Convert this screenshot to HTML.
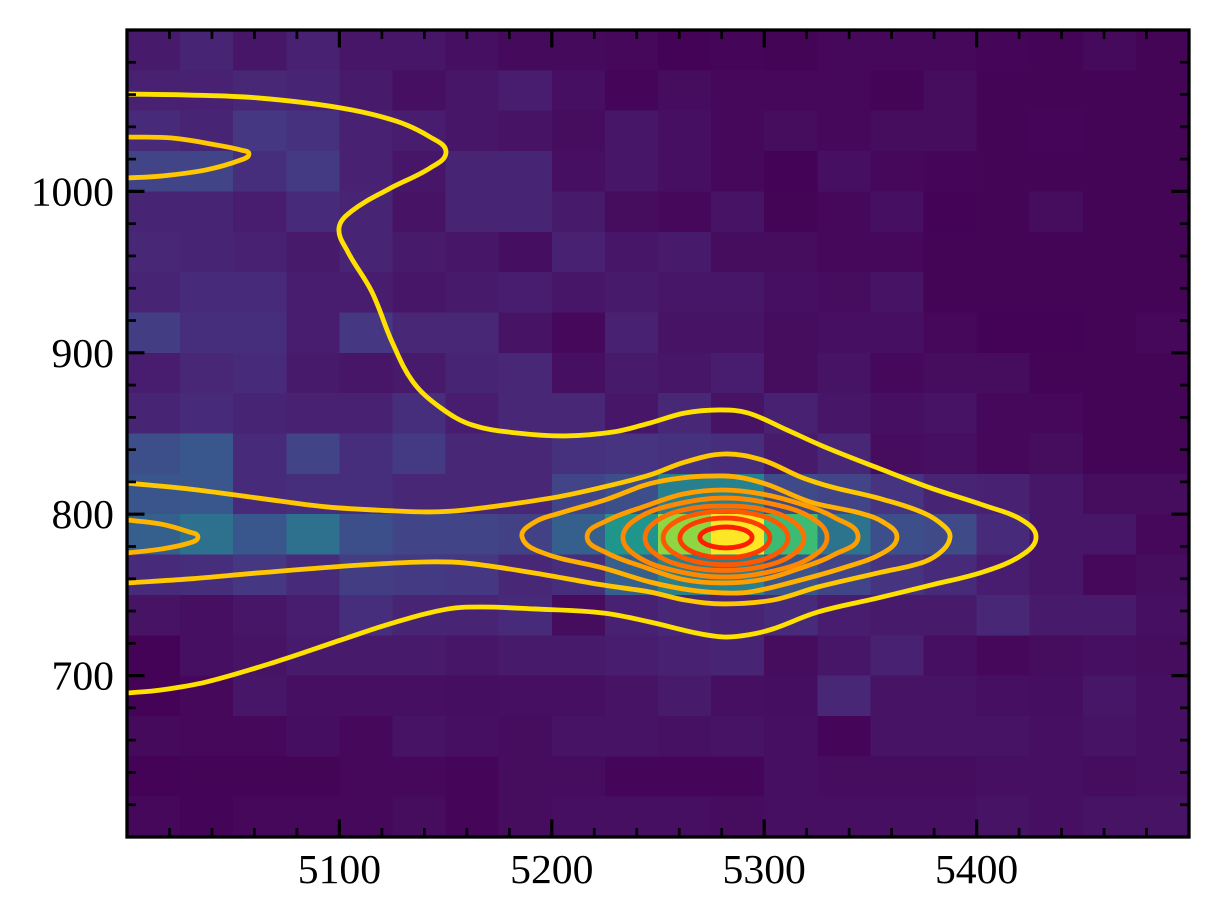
<!DOCTYPE html>
<html lang="en">
<head>
<meta charset="utf-8">
<title>Density heatmap with contours</title>
<style>
html,body{margin:0;padding:0;background:#fff;width:1218px;height:918px;overflow:hidden}
svg{display:block}
text{font-family:"Liberation Serif","Times New Roman",serif;font-size:41.67px;fill:#000}
</style>
</head>
<body>
<svg id="chart" xmlns="http://www.w3.org/2000/svg" width="1218" height="918" viewBox="0 0 1218 918">
  <defs><clipPath id="plot-clip"><rect x="127" y="30" width="1062" height="807"></rect></clipPath></defs>
  <g id="heatmap"></g>
  <g id="contours" clip-path="url(#plot-clip)" fill="none" stroke-linejoin="round" stroke-linecap="butt"></g>
  <g id="ticks" stroke="#000"></g>
  <rect x="127" y="30" width="1062" height="807" fill="none" stroke="#000" stroke-width="3.3"></rect>
  <g id="labels"></g>
</svg>
<script>
// ---- tick data ----
const xTickLabels = [5100, 5200, 5300, 5400];
const yTickLabels = [700, 800, 900, 1000];
const xRange = [5000, 5500];
const yRange = [600, 1100];
const minorStep = 20;
const binSize = 25;

// ---- heatmap counts (percent of peak), rows from top (y=1100) to bottom (y=600) ----
const heatRows = [
 [7,10,6,9,6,6,4,2.5,2.5,2,0.5,1.5,1,2,2,2,1.5,1,2.5,1],
 [9,9,11,10,7,4,6,8,4,1.5,3,2,2,2,1,3,1,1,1,1],
 [12,10,16,14,9,8,6,5,3,6,4,2,3,2,3,3,1,1.5,1,1],
 [20,20,13,17,9,6,10,10,4,6,4,2,0.5,4,2,1.5,1,1,1,1],
 [10,10,8,12,10,5,10,10,7,3,2,5,1,2,4,0.5,1,3,1,1],
 [11,10,9,7,10,7,6,3.5,9,6,7,3,3,2,2,1,1,1,1,1],
 [10,12,12,8,8,6,7,8,6,7,6,6,4,3,5,1,1,1,1,1],
 [18,13,13,8,16,11,11,5,2,9,5,5,3,4,4,2,0.5,0.5,1,2],
 [8,11,12,7,6,7,10,11,4,7,6,8,3,5,2,3,3,1,1,1],
 [10,12,10,9,9,13,8,11,11,6,11,5,9,6,4,5,2,2,1,1],
 [24,27,12,20,13,17,11,11,14,15,14,13,7,11,3,4,2,3,1,1],
 [26,27,12,13,13,11,11,11,20,24,44,45,22,20,15,10,9,6,3,3],
 [30,37,27,37,24,20,20,19,30,52,83,100,68,38,24,22,12,6,6,2],
 [12,13,16,12,18,17,16,11,13,30,44,44,26,20,15,12,8,6,2,3],
 [5,4,6,8,13,10,10,12,3,9,11,10,12,8,7,7,11,7,7,4],
 [0.5,4,5,7,7,7,6,7,7,8,9,10,3,6,9,4,2,3,4,3],
 [0.5,2,6,4,4,4,3.5,4,4,5,7,4,3.5,11,5,5,4,3.5,6,4],
 [2.5,2,2,3.5,2,5,4,3,5,5,4.5,5,4,1.5,5,5,5,4,5,4],
 [0.5,1,1,1,2,2,1.5,3,3,1.5,1.5,1.5,4,3,3,3,4,4,3,4],
 [2,0.8,2,2,2,3,1.5,3,4,4,4,3,4,4,4,4,5,4,5,5]
];

// ---- contour lines in data units ----
const level1Outer = [[5000,1060.3],[5029.2,1059.7],[5061.7,1057.9],[5100.8,1051.7],[5126.6,1043.6],[5142.7,1033.7],[5150.2,1024.4],[5142.7,1014.5],[5123.3,1001.5],[5106,988],[5099.8,977.3],[5104,962.5],[5115.3,937.7],[5124.8,906.7],[5134.7,881.9],[5147.8,865.8],[5162.4,855.3],[5183.6,850.3],[5206.2,848.5],[5228.8,850.9],[5246.2,856.5],[5262.7,862.7],[5279.2,864.6],[5292.4,862.7],[5310.7,852.2],[5328.6,841.6],[5353.6,828.6],[5378.5,816.2],[5403,805.7],[5421.4,796.4],[5428,785.9],[5421.4,774.7],[5403,764.2],[5378.5,756.1],[5353.6,748.1],[5325.3,739.4],[5304.1,728.9],[5292.4,725.2],[5281.1,723.9],[5267.9,726.4],[5246.2,733.2],[5224.1,738.8],[5191.6,741.3],[5167.1,742.5],[5151.1,741.3],[5126.6,733.2],[5100.8,722.1],[5069.7,708.4],[5037.2,696],[5016,691.1],[5000,689.2]];
const level2Band = [[5000,819.3],[5029.2,815.6],[5061.7,810],[5094.2,804.5],[5126.6,802],[5142.7,801.4],[5159.1,802.6],[5199.6,810],[5224.1,816.8],[5246.2,824.3],[5262.7,832.3],[5281.1,837.3],[5299,833.6],[5317.3,823],[5331.9,816.8],[5353.6,810],[5375.2,800.7],[5385.1,792.1],[5387.5,785.9],[5384.2,777.8],[5375.2,770.4],[5353.6,763.6],[5325.3,754.9],[5304.1,746.8],[5281.1,744.4],[5262.7,746.8],[5246.2,751.8],[5224.1,756.1],[5191.6,763.6],[5159.1,769.8],[5139.4,770.4],[5110.2,768.5],[5061.7,763.6],[5029.2,759.9],[5000,757.4]];
const level2Island = [[5000,1033.7],[5021.2,1033.1],[5042.4,1028.7],[5053.7,1025.6],[5057.4,1023.2],[5053.7,1019.5],[5037.2,1013.3],[5016,1009.5],[5000,1008.3]];
const level3Cap = [[5000,796.4],[5016,793.9],[5029.2,789],[5033.4,785.9],[5029.2,782.1],[5016,778.4],[5000,776]];
const level3Lens = [[5186,785.9],[5192.1,795.2],[5203.9,800.7],[5225,808.8],[5249.5,820],[5280.6,823.7],[5299.4,819.3],[5321.6,807.6],[5345.1,800.7],[5355.9,795.2],[5362.5,785.9],[5355.9,776],[5337.1,766.7],[5313.6,758],[5293.3,751.8],[5280.6,751.2],[5265.1,753],[5246.2,758],[5224.1,766.7],[5195.9,776]];
const level4Lens = [[5216.6,786],[5226,796],[5244,805],[5262,812.5],[5280.6,815],[5299,812.5],[5318,806],[5333,798],[5344.2,786],[5333,775],[5318,767],[5299,759.5],[5280.6,757.4],[5262,759.5],[5244,767],[5226,776]];
const level5Lens = [[5233.5,785.6],[5240.5,797.6],[5258,806],[5281.5,810],[5305,806],[5322.5,797.6],[5329.6,785.6],[5322.5,773.6],[5305,765],[5281.5,761.1],[5258,765],[5240.5,773.6]];
const level6Ring = [[5243.9,785.3],[5248.9,795.4],[5262.6,802.8],[5281.3,805.1],[5300,802.8],[5313.7,795.4],[5318.7,785.3],[5313.7,775.2],[5300,767.8],[5281.3,765.1],[5262.6,767.8],[5248.9,775.2]];
const level7Ring = [[5252.4,785.3],[5256.3,793.6],[5267.1,799.7],[5281.8,801.9],[5296.5,799.7],[5307.3,793.6],[5311.2,785.3],[5307.3,777],[5296.5,770.9],[5281.8,768.7],[5267.1,770.9],[5256.3,777]];
const level8Ring = [[5260.3,785.3],[5263.1,791.5],[5270.9,796],[5281.5,797.6],[5292.1,796],[5299.9,791.5],[5302.7,785.3],[5299.9,779.1],[5292.1,774.6],[5281.5,773],[5270.9,774.6],[5263.1,779.1]];
const level9Ring = [[5269.7,785.6],[5271.4,788.9],[5275.9,791.2],[5282,792.1],[5288.1,791.2],[5292.6,788.9],[5294.3,785.6],[5292.6,782.3],[5288.1,780],[5282,779.1],[5275.9,780],[5271.4,782.3]];

const NS = 'http://www.w3.org/2000/svg';
const plotLeft = 127, plotRight = 1189, plotTop = 30, plotBottom = 837;
function xScale(v){ return plotLeft + (v - xRange[0]) / (xRange[1] - xRange[0]) * (plotRight - plotLeft); }
function yScale(v){ return plotBottom - (v - yRange[0]) / (yRange[1] - yRange[0]) * (plotBottom - plotTop); }

const viridisStops = ['#440154','#471365','#482475','#463480','#414487','#3b528b','#355f8d','#2f6c8e','#2a788e','#26828e','#21918c','#1e9c89','#22a884','#2fb47c','#44bf70','#5ec962','#7ad151','#9bd93c','#bddf26','#dde318','#fde725'];
function viridis(t){
  const p = Math.max(0, Math.min(1, t)) * (viridisStops.length - 1);
  const i = Math.min(Math.floor(p), viridisStops.length - 2);
  const f = p - i;
  const a = viridisStops[i], b = viridisStops[i + 1];
  const parts = [1, 3, 5].map(function(k){
    const ca = parseInt(a.substr(k, 2), 16), cb = parseInt(b.substr(k, 2), 16);
    return Math.round(ca + (cb - ca) * f);
  });
  return 'rgb(' + parts.join(',') + ')';
}

// heatmap cells
const heatG = document.getElementById('heatmap');
heatRows.forEach(function(row, r){
  row.forEach(function(val, c){
    const x0 = xScale(xRange[0] + c * binSize), x1 = xScale(xRange[0] + (c + 1) * binSize);
    const y0 = yScale(yRange[1] - r * binSize), y1 = yScale(yRange[1] - (r + 1) * binSize);
    const cell = document.createElementNS(NS, 'rect');
    
    
    cell.setAttribute('x', x0);
    cell.setAttribute('y', y0);
    cell.setAttribute('width', x1 - x0);
    cell.setAttribute('height', y1 - y0);
    cell.setAttribute('fill', viridis(val / 100));
    cell.setAttribute('shape-rendering', 'crispEdges');
    heatG.appendChild(cell);
  });
});

// smooth path: tangent follows the neighbours' chord, handle length follows the segment
function unitTangent(p0, p2){
  const tx = p2[0] - p0[0], ty = p2[1] - p0[1];
  const l = Math.hypot(tx, ty) || 1;
  return [tx / l, ty / l];
}
function smoothPath(points, closed){
  const pts = points.map(function(p){ return [xScale(p[0]), yScale(p[1])]; });
  const n = pts.length;
  function at(i){
    if (closed) return pts[(i + n) % n];
    return pts[Math.max(0, Math.min(n - 1, i))];
  }
  let d = 'M' + pts[0][0].toFixed(2) + ' ' + pts[0][1].toFixed(2);
  const last = closed ? n : n - 1;
  for (let i = 0; i < last; i++){
    const p0 = at(i - 1), p1 = at(i), p2 = at(i + 1), p3 = at(i + 2);
    const t1 = unitTangent(p0, p2), t2 = unitTangent(p1, p3);
    const h = Math.hypot(p2[0] - p1[0], p2[1] - p1[1]) * 0.36;
    d += 'C' + (p1[0] + t1[0] * h).toFixed(2) + ' ' + (p1[1] + t1[1] * h).toFixed(2) + ' ' + (p2[0] - t2[0] * h).toFixed(2) + ' ' + (p2[1] - t2[1] * h).toFixed(2) + ' ' + p2[0].toFixed(2) + ' ' + p2[1].toFixed(2);
  }
  return d + (closed ? 'Z' : '');
}

const contourSeries = [
  [level1Outer, '#ffe100', false],
  [level2Band, '#ffc800', false],
  [level2Island, '#ffc800', false],
  [level3Cap, '#ffb400', false],
  [level3Lens, '#ffb000', true],
  [level4Lens, '#ff9c00', true],
  [level5Lens, '#ff8800', true],
  [level6Ring, '#ff7000', true],
  [level7Ring, '#ff5800', true],
  [level8Ring, '#ff3c00', true],
  [level9Ring, '#ff1e00', true]
];
const contourG = document.getElementById('contours');
contourSeries.forEach(function(item){
  const line = document.createElementNS(NS, 'path');
  
  
  line.setAttribute('d', smoothPath(item[0], item[2]));
  line.setAttribute('stroke', item[1]);
  line.setAttribute('stroke-width', '4.8');
  contourG.appendChild(line);
});

// ticks
const tickG = document.getElementById('ticks');
function addTick(x1, y1, x2, y2, w, name){
  const t = document.createElementNS(NS, 'line');
  
  
  t.setAttribute('x1', x1);
  t.setAttribute('y1', y1);
  t.setAttribute('x2', x2);
  t.setAttribute('y2', y2);
  t.setAttribute('stroke-width', w);
  tickG.appendChild(t);
}
const majorLen = 17.5, minorLen = 9, majorW = 3.2, minorW = 2.7;
for (let v = xRange[0] + minorStep; v < xRange[1]; v += minorStep){
  const isMajor = xTickLabels.indexOf(v) >= 0;
  const len = isMajor ? majorLen : minorLen, w = isMajor ? majorW : minorW;
  addTick(xScale(v), plotBottom, xScale(v), plotBottom - len, w, 'x-tick-bottom');
  addTick(xScale(v), plotTop, xScale(v), plotTop + len, w, 'x-tick-top');
}
for (let v = yRange[0] + minorStep; v < yRange[1]; v += minorStep){
  const isMajor = yTickLabels.indexOf(v) >= 0;
  const len = isMajor ? majorLen : minorLen, w = isMajor ? majorW : minorW;
  addTick(plotLeft, yScale(v), plotLeft + len, yScale(v), w, 'y-tick-left');
  addTick(plotRight, yScale(v), plotRight - len, yScale(v), w, 'y-tick-right');
}

// labels
const labelG = document.getElementById('labels');
xTickLabels.forEach(function(v){
  const t = document.createElementNS(NS, 'text');
  
  
  t.setAttribute('x', xScale(v));
  t.setAttribute('y', 883);
  t.setAttribute('text-anchor', 'middle');
  t.textContent = String(v);
  labelG.appendChild(t);
});
yTickLabels.forEach(function(v){
  const t = document.createElementNS(NS, 'text');
  
  
  t.setAttribute('x', 114);
  t.setAttribute('y', yScale(v) + 14);
  t.setAttribute('text-anchor', 'end');
  t.textContent = String(v);
  labelG.appendChild(t);
});
</script>
</body>
</html>
